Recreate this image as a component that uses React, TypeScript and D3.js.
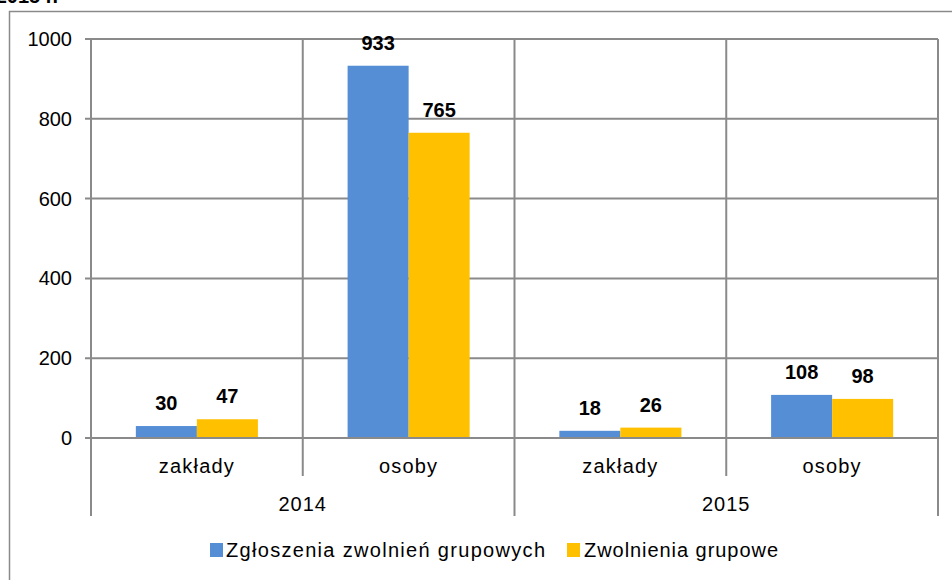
import React from "react";
import * as d3 from "d3";

const years = ["2014", "2015"];
const categories = ["zakłady", "osoby"];
const seriesNames = ["Zgłoszenia zwolnień grupowych", "Zwolnienia grupowe"];
const seriesColors = ["#558ED5", "#FFC000"];
const zgloszenia = [30, 933, 18, 108];
const zwolnienia = [47, 765, 26, 98];
const yTicks = [0, 200, 400, 600, 800, 1000];

const W = 952;
const H = 580;
const plot = { left: 91, right: 938, top: 39, bottom: 438 };
const gray = "#8a8a8a";
const font = "'Liberation Sans', Arial, sans-serif";

export default function App() {
  const groups = years.flatMap((y) => categories.map((c) => `${y}|${c}`));
  const x = d3.scaleBand<string>().domain(groups).range([plot.left, plot.right]).paddingInner(0).paddingOuter(0);
  const y = d3.scaleLinear().domain([0, 1000]).range([plot.bottom, plot.top]);
  const inner = d3.scaleBand<number>().domain([0, 1]).range([0, x.bandwidth()]).paddingOuter(0.735).paddingInner(0);
  const series = [zgloszenia, zwolnienia];
  const yearScale = d3.scaleBand<string>().domain(years).range([plot.left, plot.right]);

  return (
    <svg width={W} height={H} style={{ position: "absolute", left: 0, top: 0, background: "#fff" }} fontFamily={font}>
      <text x={58} y={3} textAnchor="end" fontSize={20} fontWeight="bold" fill="#000">2015 r.</text>
      <rect x={9.5} y={11.5} width={1000} height={700} fill="none" stroke={gray} strokeWidth={1.5} />
      {yTicks.map((t) => (
        <g key={t}>
          <line x1={plot.left - 6} x2={plot.right} y1={y(t)} y2={y(t)} stroke={gray} strokeWidth={2} />
          <text x={72} y={y(t) + 7} textAnchor="end" fontSize={20} fill="#000">{t}</text>
        </g>
      ))}
      {groups.map((g, i) => {
        const x0 = x(g)!;
        const isYearEdge = i % 2 === 0;
        return (
          <line key={g} x1={x0} x2={x0} y1={plot.top} y2={isYearEdge ? 516 : 476} stroke={gray} strokeWidth={2} />
        );
      })}
      <line x1={plot.right} x2={plot.right} y1={plot.top} y2={516} stroke={gray} strokeWidth={2} />
      {groups.map((g, i) =>
        series.map((s, si) => {
          const bx = x(g)! + inner(si)!;
          const bw = inner.bandwidth();
          const v = s[i];
          return (
            <g key={g + si}>
              <rect x={bx} y={y(v)} width={bw} height={y(0) - y(v)} fill={seriesColors[si]} />
              <text x={bx + bw / 2} y={y(v) - 16} textAnchor="middle" fontSize={20} fontWeight="bold" fill="#000">{v}</text>
            </g>
          );
        })
      )}
      <line x1={plot.left - 6} x2={plot.right} y1={y(0)} y2={y(0)} stroke={gray} strokeWidth={2} />
      {groups.map((g) => (
        <text key={g} x={x(g)! + x.bandwidth() / 2} y={473} textAnchor="middle" fontSize={20} letterSpacing={1.2} fill="#000">
          {g.split("|")[1]}
        </text>
      ))}
      {years.map((yr) => (
        <text key={yr} x={yearScale(yr)! + yearScale.bandwidth() / 2} y={511} textAnchor="middle" fontSize={20} letterSpacing={1} fill="#000">
          {yr}
        </text>
      ))}
      <g>
        <rect x={210} y={543} width={13} height={14} fill={seriesColors[0]} />
        <text x={226} y={557} fontSize={20} textLength={319} lengthAdjust="spacing" fill="#000">{seriesNames[0]}</text>
        <rect x={567} y={543} width={13} height={14} fill={seriesColors[1]} />
        <text x={584} y={557} fontSize={20} textLength={194} lengthAdjust="spacing" fill="#000">{seriesNames[1]}</text>
      </g>
    </svg>
  );
}
